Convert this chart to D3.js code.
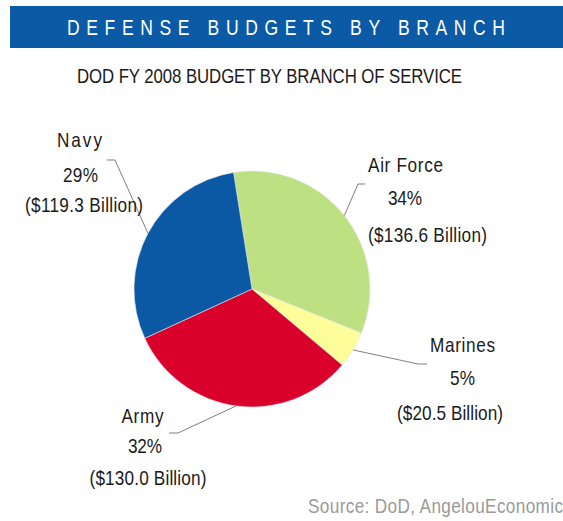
<!DOCTYPE html>
<html>
<head>
<meta charset="utf-8">
<script src="https://cdn.jsdelivr.net/npm/d3@7/dist/d3.min.js"></script>
<style>
  html, body { margin: 0; padding: 0; background: #fff; }
  svg { display: block; }
  text { font-family: "Liberation Sans", Arial, sans-serif; }
</style>
</head>
<body>
<svg id="chart" width="563" height="521"></svg>
<script>
// FY 2008 DoD budget by branch, in billions of dollars
const branches = ["Air Force", "Marines", "Army", "Navy"];
const budgets = [136.6, 20.5, 130.0, 119.3];
const sliceColors = ["#bde083", "#fdfd99", "#d9002c", "#0b59a5"];

const titleText = "DEFENSE BUDGETS BY BRANCH";
const subtitleText = "DOD FY 2008 BUDGET BY BRANCH OF SERVICE";
const sourceText = "Source: DoD, AngelouEconomics";

const W = 563, H = 521;
const cx = 252, cy = 289, R = 118;
const startDeg = -9;
const squeeze = 0.86; // horizontal condensing of the label face

// Where each callout bends and where its three text lines sit: [x center, baseline, width]
const callouts = {
  "Air Force": { elbow: [358, 184], end: [365, 184], lines: [[405.5, 172, 75], [405, 205, 34], [427.5, 242, 119]] },
  "Marines":   { elbow: [418, 364], end: [427, 364], lines: [[462.5, 352, 65], [462.5, 385, 25], [450, 420, 106]] },
  "Army":      { elbow: [178, 433], end: [169, 433], lines: [[142.5, 423, 42], [145, 453, 34], [148, 485, 117]] },
  "Navy":      { elbow: [115, 160], end: [107, 160], lines: [[79.5, 147, 45], [80.5, 182, 35], [84, 212, 118]] }
};

const svg = d3.select("#chart");
svg.append("rect").attr("width", W).attr("height", H).attr("fill", "#fff");

// Condensed text: glyphs narrowed by `sx`, spacing stretched to fill `width`
function condensed(parent, x, y, str, size, width, sx, anchor) {
  const t = parent.append("text")
    .attr("transform", `translate(${x},${y}) scale(${sx},1)`)
    .attr("text-anchor", anchor || "middle")
    .attr("font-size", size)
    .text(str);
  if (width) t.attr("textLength", width / sx).attr("lengthAdjust", "spacing");
  return t;
}

// Header band
svg.append("rect").attr("x", 10).attr("y", 6).attr("width", W - 10).attr("height", 42).attr("fill", "#0b5aa5");
condensed(svg, 286, 35, titleText, 22.5, 438, 0.78).attr("fill", "#fff");

condensed(svg, 269.5, 83, subtitleText, 21, 385, 0.8).attr("fill", "#1a1a1a");

const total = d3.sum(budgets);
const rows = branches.map((b, i) => ({ branch: b, value: budgets[i], color: sliceColors[i] }));

const pie = d3.pie()
  .value(d => d.value)
  .sort(null)
  .startAngle(startDeg * Math.PI / 180)
  .endAngle(startDeg * Math.PI / 180 + 2 * Math.PI);

const arc = d3.arc().innerRadius(0).outerRadius(R);
const arcs = pie(rows);

const g = svg.append("g").attr("transform", `translate(${cx},${cy})`);
g.selectAll("path.slice")
  .data(arcs)
  .join("path")
  .attr("class", "slice")
  .attr("d", arc)
  .attr("fill", d => d.data.color)
  .attr("stroke", "#e6e6e6")
  .attr("stroke-width", 0.6);

const pctFmt = v => Math.round(v / total * 100) + "%";
const moneyFmt = d3.format(".1f");

// Callouts: leader line from the middle of each slice's rim, then the label block
arcs.forEach(a => {
  const c = callouts[a.data.branch];
  const mid = (a.startAngle + a.endAngle) / 2;
  const sx = cx + R * Math.sin(mid), sy = cy - R * Math.cos(mid);
  svg.append("polyline")
    .attr("points", [[sx, sy], c.elbow, c.end].map(p => p.join(",")).join(" "))
    .attr("fill", "none")
    .attr("stroke", "#808080")
    .attr("stroke-width", 1);

  const strs = [a.data.branch, pctFmt(a.data.value), "($" + moneyFmt(a.data.value) + " Billion)"];
  strs.forEach((s, k) => {
    const [lx, ly, lw] = c.lines[k];
    condensed(svg, lx, ly, s, 20, lw, squeeze).attr("fill", "#1a1a1a");
  });
});

condensed(svg, 308, 513, sourceText, 20, 264, squeeze, "start").attr("fill", "#9a9a9a");
</script>
</body>
</html>
